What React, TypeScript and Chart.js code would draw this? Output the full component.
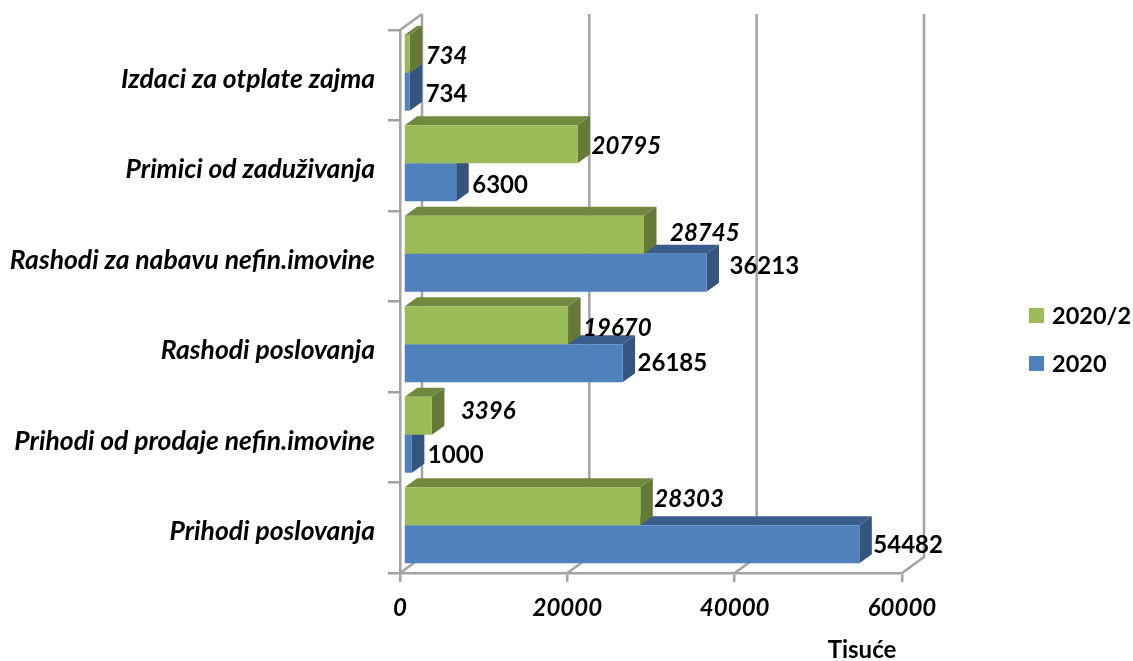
import React, { useEffect, useRef } from "react";
import { Chart, registerables } from "chart.js";

Chart.register(...registerables);

const categories = [
  "Izdaci za otplate zajma",
  "Primici od zaduživanja",
  "Rashodi za nabavu nefin.imovine",
  "Rashodi poslovanja",
  "Prihodi od prodaje nefin.imovine",
  "Prihodi poslovanja",
];
const values2020b = [734, 20795, 28745, 19670, 3396, 28303];
const values2020 = [734, 6300, 36213, 26185, 1000, 54482];
const seriesNames = ["2020/2", "2020"];
const xTicks = [0, 20000, 40000, 60000];
const axisTitle = "Tisuće";

// hand placement of the value labels, as in the reference [dx, dy] from the bar end
const labelNudgeGreen = [[16, 2.5], [14, 2.5], [26, -1.5], [15, 3.5], [29, -4.5], [14, -6.5]];
const labelNudgeBlue = [[16, 2.5], [16, 3.5], [23, -6.5], [15, 0.5], [16, 1.5], [14, 1.5]];

const FONT = "Lato, Carlito, Calibri, sans-serif";
const GREY = "#a3a3a3";
const BAR_SHIFT = { x: 3.5, y: -2.5 };
const BAR_DEPTH = { x: 12.5, y: -9 };
const WALL = { x: 22, y: -16 };
const faces = [
  { front: "#9BBB59", top: "#71893F", side: "#647A36" },
  { front: "#4F81BD", top: "#385D8A", side: "#34557F" },
];

const threeD = {
  id: "threeD",
  beforeDraw(chart: any) {
    const { ctx, chartArea: a } = chart;
    const xs = chart.scales.x;
    ctx.save();
    ctx.fillStyle = "#fff";
    ctx.fillRect(0, 0, chart.width, chart.height);
    ctx.strokeStyle = GREY;
    ctx.lineWidth = 2.5;
    for (const t of xTicks) {
      const px = xs.getPixelForValue(t);
      ctx.beginPath();
      ctx.moveTo(px, a.bottom);
      ctx.lineTo(px + WALL.x, a.bottom + WALL.y);
      ctx.lineTo(px + WALL.x, a.top + WALL.y);
      ctx.stroke();
    }
    ctx.beginPath();
    ctx.moveTo(a.left, a.top);
    ctx.lineTo(a.left + WALL.x, a.top + WALL.y);
    ctx.stroke();
    ctx.restore();
  },
  beforeDatasetDraw(chart: any, args: any) {
    const { ctx } = chart;
    const c = faces[args.index];
    ctx.save();
    ctx.translate(BAR_SHIFT.x, BAR_SHIFT.y);
    for (const el of args.meta.data) {
      const t = el.y - el.height / 2;
      const b = el.y + el.height / 2;
      const l = el.base;
      const r = el.x;
      ctx.fillStyle = c.top;
      ctx.beginPath();
      ctx.moveTo(l, t);
      ctx.lineTo(l + BAR_DEPTH.x, t + BAR_DEPTH.y);
      ctx.lineTo(r + BAR_DEPTH.x, t + BAR_DEPTH.y);
      ctx.lineTo(r, t);
      ctx.closePath();
      ctx.fill();
      ctx.fillStyle = c.side;
      ctx.beginPath();
      ctx.moveTo(r, t);
      ctx.lineTo(r + BAR_DEPTH.x, t + BAR_DEPTH.y);
      ctx.lineTo(r + BAR_DEPTH.x, b + BAR_DEPTH.y);
      ctx.lineTo(r, b);
      ctx.closePath();
      ctx.fill();
    }
  },
  afterDatasetDraw(chart: any) {
    chart.ctx.restore();
  },
  afterDraw(chart: any) {
    const { ctx } = chart;
    ctx.save();
    ctx.fillStyle = "#000";
    ctx.textBaseline = "middle";
    ctx.textAlign = "left";
    // value labels
    chart.data.datasets.forEach((ds: any, i: number) => {
      const meta = chart.getDatasetMeta(i);
      const nudge = i === 0 ? labelNudgeGreen : labelNudgeBlue;
      ctx.font = `${i === 0 ? "italic " : ""}bold 24px ${FONT}`;
      meta.data.forEach((el: any, k: number) => {
        ctx.fillText(
          String(ds.data[k]),
          el.x + BAR_SHIFT.x + nudge[k][0],
          el.y + BAR_SHIFT.y + nudge[k][1]
        );
      });
    });
    // legend
    ctx.font = `bold 23.5px ${FONT}`;
    chart.data.datasets.forEach((ds: any, i: number) => {
      const y = 315.5 + i * 48;
      ctx.fillStyle = ds.backgroundColor;
      ctx.fillRect(1029, y - 7.5, 15, 15);
      ctx.fillStyle = "#000";
      ctx.fillText(ds.label, 1052, y + 1);
    });
    // axis title
    ctx.font = `bold 24px ${FONT}`;
    ctx.textAlign = "center";
    ctx.fillText(axisTitle, 862, 650);
    ctx.restore();
  },
};

export default function App() {
  const ref = useRef<HTMLCanvasElement>(null);
  useEffect(() => {
    const chart = new Chart(ref.current as any, {
      type: "bar",
      data: {
        labels: categories,
        datasets: [
          { label: seriesNames[0], data: values2020b, backgroundColor: faces[0].front },
          { label: seriesNames[1], data: values2020, backgroundColor: faces[1].front },
        ],
      },
      options: {
        indexAxis: "y",
        animation: false,
        responsive: false,
        devicePixelRatio: 1,
        layout: { padding: { top: 30, right: 231, left: 0, bottom: 0 } },
        datasets: { bar: { categoryPercentage: 0.84, barPercentage: 1, borderWidth: 0 } },
        plugins: { legend: { display: false }, tooltip: { enabled: false }, title: { display: false } },
        scales: {
          x: {
            type: "linear",
            min: 0,
            max: 60000,
            afterFit: (s: any) => { s.height = 88; },
            afterBuildTicks: (s: any) => { s.ticks = xTicks.map((value) => ({ value })); },
            grid: { drawOnChartArea: false, drawTicks: true, tickLength: 9, color: GREY, lineWidth: 2.5 },
            border: { color: GREY, width: 2.5 },
            ticks: {
              color: "#000",
              maxRotation: 0,
              padding: 12,
              callback: (v: any) => String(v),
              font: { family: FONT, size: 24, weight: "bold", style: "italic" },
            },
          },
          y: {
            type: "category",
            afterFit: (s: any) => { s.width = 400; },
            grid: { offset: true, drawOnChartArea: false, drawTicks: true, tickLength: 12, color: GREY, lineWidth: 2.5 },
            border: { color: GREY, width: 2.5 },
            ticks: {
              color: "#000",
              padding: 13,
              autoSkip: false,
              labelOffset: 4,
              font: { family: FONT, size: 26.5, weight: "bold", style: "italic" },
            },
          },
        },
      } as any,
      plugins: [threeD],
    } as any);
    return () => chart.destroy();
  }, []);
  return (
    <div style={{ position: "fixed", left: 0, top: 0, width: 1133, height: 661, background: "#fff" }}>
      <canvas ref={ref} width={1133} height={661} style={{ display: "block" }} />
    </div>
  );
}
